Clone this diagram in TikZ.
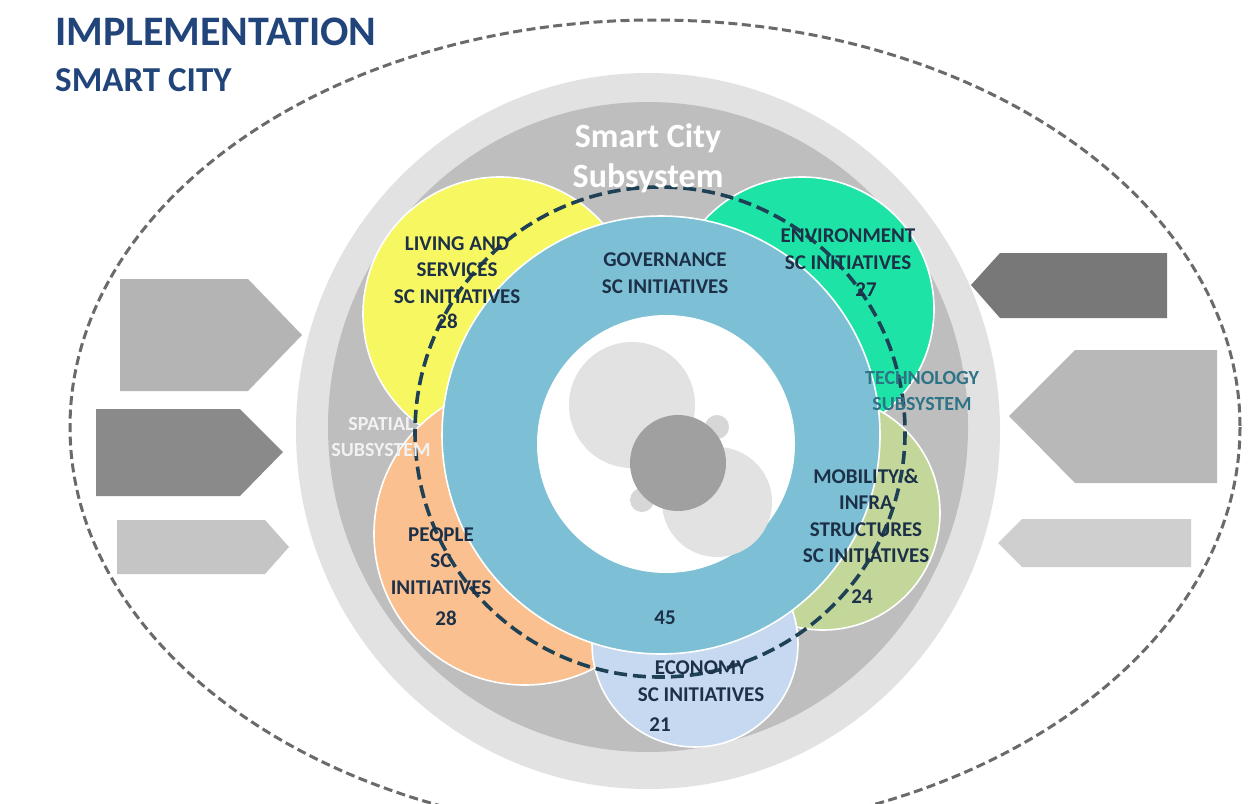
\documentclass[tikz,border=0pt]{standalone}
\usepackage{fontspec}
\setmainfont{Carlito}
\definecolor{navy}{HTML}{1C3048}
\definecolor{titleblue}{HTML}{21457A}
\definecolor{teal}{HTML}{2E7386}
\definecolor{lgray}{HTML}{E2E2E2}
\definecolor{mgray}{HTML}{BEBEBE}
\definecolor{ringblue}{HTML}{7DC0D5}
\definecolor{cyellow}{HTML}{F7F762}
\definecolor{cgreen}{HTML}{1EE3A6}
\definecolor{colive}{HTML}{C4D79B}
\definecolor{cecon}{HTML}{C6D9F1}
\definecolor{corange}{HTML}{FAC090}
\definecolor{dashblue}{HTML}{1F4155}
\definecolor{dashgray}{HTML}{6A6A6A}
\definecolor{arrA}{HTML}{B4B4B4}
\definecolor{arrB}{HTML}{8A8A8A}
\definecolor{arrC}{HTML}{C5C5C5}
\definecolor{arrD}{HTML}{787878}
\definecolor{arrE}{HTML}{B8B8B8}
\definecolor{arrF}{HTML}{CFCFCF}
\definecolor{bump}{HTML}{D7D7D7}
\definecolor{coregray}{HTML}{A0A0A0}
\definecolor{spatialtxt}{HTML}{F2F2F2}
\tikzset{
  petal/.style={draw=white, line width=1.6pt},
  lbl/.style={font=\bfseries\fontsize{21}{26.5}\selectfont, text=navy, align=center, inner sep=0pt},
  num/.style={font=\bfseries\fontsize{21}{26.5}\selectfont, text=navy, inner sep=0pt},
  sublbl/.style={font=\bfseries\fontsize{20}{25.5}\selectfont, align=center, inner sep=0pt},
  outerdash/.style={draw=dashgray, line width=3pt, dash pattern=on 9pt off 4.5pt},
  innerdash/.style={draw=dashblue, line width=3.6pt, dash pattern=on 13pt off 6pt},
}
\begin{document}
\begin{tikzpicture}[x=1pt,y=-1pt]
\useasboundingbox (0,0) rectangle (1257,803);
\clip (0,0) rectangle (1257,803);
\fill[white] (0,0) rectangle (1257,803);
% outer dashed ellipse
\draw[outerdash] (655,427) ellipse [x radius=585, y radius=407];
% left arrows
\fill[arrA] (120,279) -- (248,279) -- (302,335) -- (248,391) -- (120,391) -- cycle;
\fill[arrB] (96,409) -- (240,409) -- (283,452) -- (240,496) -- (96,496) -- cycle;
\fill[arrC] (117,520) -- (265,520) -- (289,547) -- (265,574) -- (117,574) -- cycle;
% right arrows
\fill[arrD] (1167,253) -- (1000,253) -- (971,285) -- (1000,318) -- (1167,318) -- cycle;
\fill[arrE] (1217,350) -- (1075,350) -- (1009,416) -- (1075,483) -- (1217,483) -- cycle;
\fill[arrF] (1191,519) -- (1022,519) -- (998,543) -- (1022,567) -- (1191,567) -- cycle;
% subsystem discs
\fill[lgray] (648,431) ellipse [x radius=352, y radius=358];
\fill[mgray] (648,427) ellipse [x radius=320, y radius=325];
% petals
\filldraw[petal, fill=cyellow] (500,314) circle [radius=137];
\filldraw[petal, fill=cgreen] (802,309) circle [radius=132];
\filldraw[petal, fill=colive] (823,513) circle [radius=117];
\filldraw[petal, fill=corange] (525,534) circle [radius=151];
\filldraw[petal, fill=cecon] (695,644) circle [radius=103];
% governance ring
\filldraw[petal, fill=ringblue] (661,435) circle [radius=219];
\fill[white] (666,444) circle [radius=129];
% core circles
\fill[lgray] (632,405) circle [radius=63];
\fill[lgray] (717,502) circle [radius=55];
\fill[bump] (717,427) circle [radius=12];
\fill[bump] (642,500) circle [radius=12];
\fill[coregray] (678,463) circle [radius=48];
% dashed smart-city boundary
\draw[innerdash] (660,432) circle [radius=245];
% title
\node[anchor=west, inner sep=0pt, text=titleblue, font=\bfseries\fontsize{42}{46}\selectfont] (title) at (55,32) {IMPLEMENTATION};
\node[anchor=west, inner sep=0pt, text=titleblue, font=\bfseries\fontsize{35}{40}\selectfont] (subtitle) at (55,80) {SMART CITY};
% labels
\node[align=center, inner sep=0pt, text=white, font=\bfseries\fontsize{34}{40}\selectfont] (sc) at (648,158) {Smart City\\Subsystem};
\node[lbl] (living) at (457,270) {LIVING AND\\SERVICES\\SC INITIATIVES};
\node[num] (livingn) at (447,321) {28};
\node[lbl] (gov) at (665,273) {GOVERNANCE\\SC INITIATIVES};
\node[num] (govn) at (665,618) {45};
\node[lbl] (env) at (848,249) {ENVIRONMENT\\SC INITIATIVES};
\node[num] (envn) at (866,290) {27};
\node[sublbl, text=teal] (tech) at (922,391) {TECHNOLOGY\\SUBSYSTEM};
\node[lbl] (mob) at (866,516) {MOBILITY \&\\INFRA\\STRUCTURES\\SC INITIATIVES};
\node[num] (mobn) at (862,597) {24};
\node[sublbl, text=spatialtxt] (spatial) at (381,437) {SPATIAL\\SUBSYSTEM};
\node[lbl] (people) at (441,561) {PEOPLE\\SC\\INITIATIVES};
\node[num] (peoplen) at (446,618) {28};
\node[lbl] (econ) at (701,681) {ECONOMY\\SC INITIATIVES};
\node[num] (econn) at (660,725) {21};
\end{tikzpicture}
\end{document}
